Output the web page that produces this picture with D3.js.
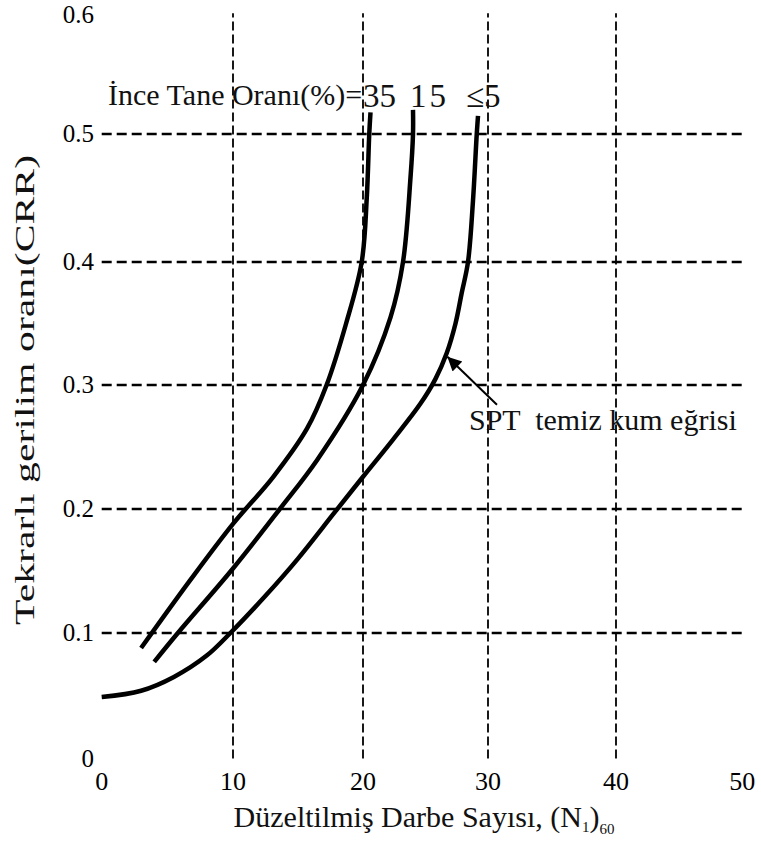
<!DOCTYPE html>
<html>
<head>
<meta charset="utf-8">
<script src="https://cdn.jsdelivr.net/npm/d3@7"></script>
<style>
  html, body { margin: 0; padding: 0; background: #fff; }
  svg { display: block; }
</style>
</head>
<body>
<div id="chart"></div>
<script>
// CRR vs corrected blow count (N1)60, three fines-content curves

const xTicks = [0, 10, 20, 30, 40, 50];
const yTicks = [0, 0.1, 0.2, 0.3, 0.4, 0.5, 0.6];
const yTickLabels = ['0', '0.1', '0.2', '0.3', '0.4', '0.5', '0.6'];

// fines 35 %
const curve35 = [
  [3.0, 0.088], [6.7, 0.142], [10.0, 0.188], [13.1, 0.226], [15.7, 0.265],
  [17.2, 0.300], [18.7, 0.350], [19.9, 0.400], [20.3, 0.450], [20.5, 0.500],
  [20.6, 0.518]
];
// fines 15 %
const curve15 = [
  [4.0, 0.077], [5.8, 0.100], [10.0, 0.152], [13.6, 0.200], [16.5, 0.240],
  [20.0, 0.300], [22.2, 0.355], [23.2, 0.400], [23.8, 0.466], [24.0, 0.500],
  [24.0, 0.520]
];
// fines <= 5 % (clean sand curve)
const curve5 = [
  [0.0, 0.049], [3.0, 0.054], [5.5, 0.065], [8.0, 0.082], [9.8, 0.100],
  [12.5, 0.130], [15.0, 0.160], [17.8, 0.197], [20.0, 0.226], [22.4, 0.256],
  [24.6, 0.285], [25.8, 0.305], [26.7, 0.326], [27.4, 0.350], [27.9, 0.375],
  [28.4, 0.400], [28.8, 0.448], [29.1, 0.500], [29.2, 0.515]
];

const width = 761, height = 851;
const serif = '"Liberation Serif", "Times New Roman", "DejaVu Serif", serif';

// the scanned grid is slightly uneven, so the scales follow the grid lines
const x = d3.scaleLinear().domain(xTicks).range([101.7, 233, 363, 488, 616, 742.3]);
const y = d3.scaleLinear().domain(yTicks).range([758.5, 633, 509, 385, 262, 134, 13.3]);

const svg = d3.select('#chart').append('svg')
  .attr('width', width).attr('height', height)
  .attr('font-family', serif);

const [x0, x1] = d3.extent(x.range());
const [y1, y0] = d3.extent(y.range());

// grid
svg.append('g').selectAll('line')
  .data(yTicks.slice(1, -1))
  .join('line')
  .attr('x1', x0).attr('x2', x1)
  .attr('y1', d => y(d)).attr('y2', d => y(d))
  .attr('stroke', '#000').attr('stroke-width', 2.6)
  .attr('stroke-dasharray', '10,5');

svg.append('g').selectAll('line')
  .data(xTicks.slice(1, -1))
  .join('line')
  .attr('x1', d => x(d)).attr('x2', d => x(d))
  .attr('y1', y0).attr('y2', y1)
  .attr('stroke', '#000').attr('stroke-width', 1.8)
  .attr('stroke-dasharray', '9,4');

// frame
svg.append('rect')
  .attr('x', x0).attr('y', y0)
  .attr('width', x1 - x0).attr('height', y1 - y0)
  .attr('fill', 'none').attr('stroke', '#000').attr('stroke-width', 4.5);

// tick labels
svg.append('g').selectAll('text')
  .data(yTicks)
  .join('text')
  .attr('font-family', serif)
  .attr('x', 94).attr('y', d => Math.max(y(d) + 8, 23))
  .attr('text-anchor', 'end')
  .attr('font-size', 25)
  .text((d, i) => yTickLabels[i]);

svg.append('g').selectAll('text')
  .data(xTicks)
  .join('text')
  .attr('font-family', serif)
  .attr('x', d => x(d)).attr('y', 790)
  .attr('text-anchor', 'middle')
  .attr('font-size', 26)
  .text(d => d);

// curves
const line = d3.line()
  .x(d => x(d[0])).y(d => y(d[1]))
  .curve(d3.curveCatmullRom.alpha(0.5));

svg.append('g').selectAll('path')
  .data([curve35, curve15, curve5])
  .join('path')
  .attr('d', line)
  .attr('fill', 'none').attr('stroke', '#000')
  .attr('stroke-width', 4.5).attr('stroke-linecap', 'butt');

// curve labels
const label = (tx, ty, size, str) => svg.append('text')
  .attr('font-family', serif)
  .attr('x', tx).attr('y', ty)
  .attr('font-size', size)
  .attr('fill', '#111')
  .text(str);

label(108, 105, 30, 'İnce Tane Oranı(%)=');
label(363, 107, 33, '35');
label(410, 107, 33, '15').attr('letter-spacing', 3);
label(466, 107, 33, '≤5');

// arrow to clean sand curve
svg.append('defs').append('marker')
  .attr('id', 'arr').attr('viewBox', '0 0 10 10')
  .attr('refX', 10).attr('refY', 5)
  .attr('markerWidth', 9).attr('markerHeight', 7)
  .attr('markerUnits', 'strokeWidth')
  .attr('orient', 'auto')
  .append('path').attr('d', 'M0,0L10,5L0,10Z').attr('fill', '#000');

svg.append('line')
  .attr('x1', x(30.7)).attr('y1', y(0.284))
  .attr('x2', x(26.75)).attr('y2', y(0.323))
  .attr('stroke', '#000').attr('stroke-width', 2)
  .attr('marker-end', 'url(#arr)');

label(469, 430, 30, 'SPT  temiz kum eğrisi').attr('xml:space', 'preserve');

// axis titles
const xt = svg.append('text')
  .attr('font-family', serif)
  .attr('x', (x0 + x1) / 2 + 2).attr('y', 827)
  .attr('text-anchor', 'middle')
  .attr('font-size', 30)
  .attr('fill', '#111');
xt.append('tspan').text('Düzeltilmiş Darbe Sayısı, (N');
xt.append('tspan').attr('dy', 5).attr('font-size', 15).text('1');
xt.append('tspan').attr('dy', -5).text(')');
xt.append('tspan').attr('dy', 7).attr('font-size', 15).text('60');

// the scanned y title is drawn stretched along its length
svg.append('text')
  .attr('font-family', serif)
  .attr('transform', `translate(34,${(y0 + y1) / 2 + 4}) rotate(-90)`)
  .attr('text-anchor', 'middle')
  .attr('font-size', 28)
  .attr('textLength', 470)
  .attr('lengthAdjust', 'spacingAndGlyphs')
  .attr('fill', '#111')
  .text('Tekrarlı gerilim oranı(CRR)');
</script>
</body>
</html>
